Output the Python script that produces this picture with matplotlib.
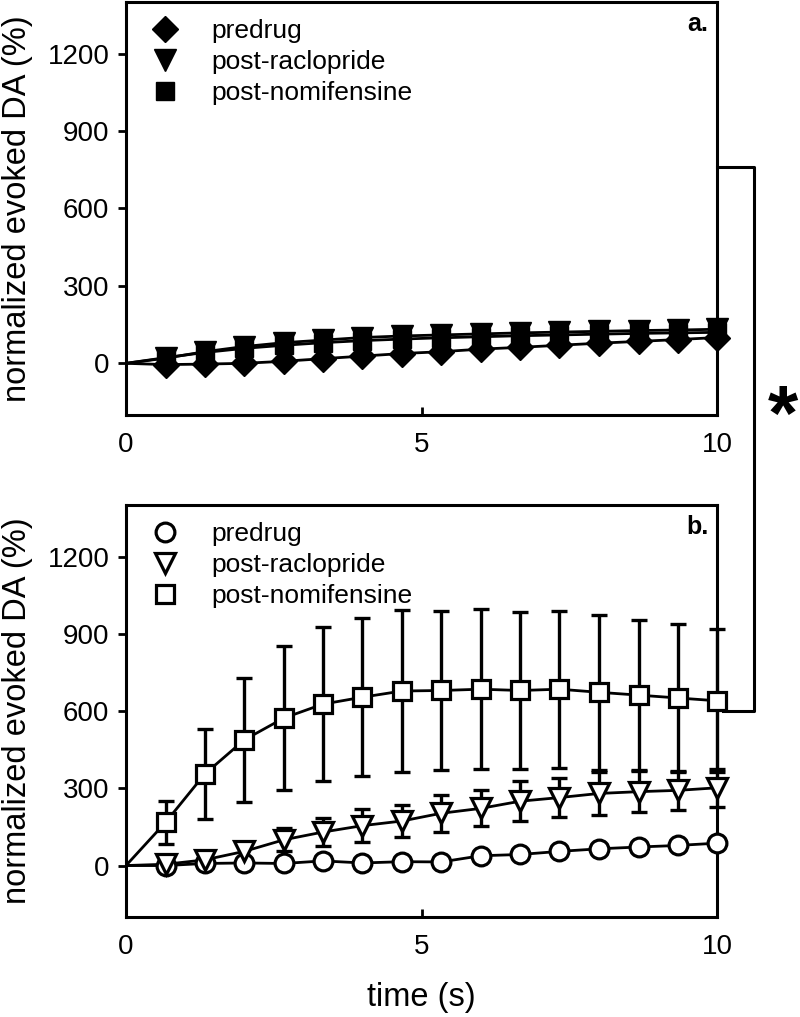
import matplotlib
matplotlib.use("Agg")
import matplotlib.pyplot as plt
from matplotlib.lines import Line2D
import numpy as np

plt.rcParams['font.family'] = ['Liberation Sans', 'DejaVu Sans']

# time points (s); first point is the origin, drawn without a marker
t = [0, 0.67, 1.33, 2.0, 2.67, 3.33, 4.0, 4.67, 5.33, 6.0, 6.67, 7.33, 8.0, 8.67, 9.33, 10.0]

# panel a (filled markers)
a_predrug = [0, -5, -3, 0, 8, 18, 28, 38, 45, 55, 62, 70, 78, 85, 92, 100]
a_raclo = [0, 20, 45, 65, 80, 90, 100, 106, 110, 114, 118, 121, 124, 127, 129, 132]
a_nomi = [0, 22, 42, 58, 70, 80, 88, 94, 99, 103, 107, 110, 113, 116, 118, 120]

# panel b (open markers) with error bars
b_predrug = [0, 0, 8, 10, 8, 18, 10, 15, 14, 38, 43, 55, 65, 72, 78, 87]
b_predrug_err = [0, 5, 8, 8, 10, 10, 10, 12, 12, 15, 15, 15, 18, 18, 18, 20]
b_raclo = [0, 5, 22, 55, 100, 130, 155, 173, 203, 222, 250, 264, 280, 287, 292, 302]
b_raclo_err = [0, 8, 15, 25, 45, 55, 63, 63, 72, 70, 78, 77, 82, 80, 75, 73]
b_nomi = [0, 168, 355, 488, 573, 627, 654, 678, 680, 685, 680, 685, 673, 662, 651, 640]
b_nomi_err = [0, 84, 176, 240, 278, 300, 307, 315, 310, 310, 305, 305, 301, 291, 287, 278]

labels = ['predrug', 'post-raclopride', 'post-nomifensine']
markers = ['o', 'v', 's']
msizes = [13.5, 15, 12.5]
fmarkers = ['D', 'v', 's']
fsizes = [13, 16, 12.5]

fig = plt.figure(figsize=(8, 10.17), dpi=100)
ax1 = fig.add_axes([0.1575, 0.592, 0.739, 0.406])
ax2 = fig.add_axes([0.1575, 0.0983, 0.739, 0.405])

lw = 2.0
mew = 2.3

# panel a
for y, m, ms in zip([a_predrug, a_raclo, a_nomi], fmarkers, fsizes):
    ax1.plot(t, y, color='black', lw=lw, zorder=2)
    ax1.plot(t[1:], y[1:], ls='none', marker=m, ms=ms, mfc='black', mec='black',
             mew=1, zorder=3, clip_on=False)

# panel b
for y, e, m, ms in zip([b_predrug, b_raclo, b_nomi], [b_predrug_err, b_raclo_err, b_nomi_err],
                       markers, msizes):
    ax2.errorbar(t[1:], y[1:], yerr=e[1:], fmt='none', ecolor='black', elinewidth=2.4,
                 capsize=6, capthick=2.4, zorder=2, clip_on=False)
    ax2.plot(t, y, color='black', lw=lw, zorder=2.5)
    ax2.plot(t[1:], y[1:], ls='none', marker=m, ms=ms, mfc='white', mec='black',
             mew=mew, zorder=3, clip_on=False)

for ax, mk, sz, fill, tag in [(ax1, fmarkers, fsizes, 'black', 'a.'),
                              (ax2, markers, msizes, 'white', 'b.')]:
    ax.set_xlim(0, 10)
    ax.set_ylim(-200, 1400)
    ax.set_xticks([0, 5, 10])
    ax.set_yticks([0, 300, 600, 900, 1200])
    ax.tick_params(axis='x', direction='in', length=6, width=2, pad=12, labelsize=20)
    ax.tick_params(axis='y', direction='out', length=6, width=2, pad=6, labelsize=20)
    for s in ax.spines.values():
        s.set_linewidth(2.2)
    ax.set_ylabel('normalized evoked DA (%)', fontsize=23.5)
    ax.yaxis.set_label_coords(-0.158, 0.5)
    handles = [Line2D([], [], ls='none', marker=m, ms=s, mfc=fill, mec='black',
                      mew=(1 if fill == 'black' else mew)) for m, s in zip(mk, sz)]
    ax.legend(handles, labels, loc='upper left', bbox_to_anchor=(0.022, 0.985),
              frameon=False, fontsize=19, handlelength=1.2, handletextpad=1.15,
              labelspacing=0.27, borderaxespad=0)
    ax.text(0.985, 0.948, tag, transform=ax.transAxes, ha='right', va='center',
            fontsize=18, fontweight='bold')

ax2.set_xlabel('time (s)', fontsize=23.5, labelpad=16)

# significance bracket between panels
fig.canvas.draw()
p_top = ax1.transData.transform((10, 760))
p_bot = ax2.transData.transform((10, 600))
bx = p_top[0] + 37
pts = np.array([[p_top[0], p_top[1]], [bx, p_top[1]], [bx, p_bot[1]], [p_bot[0] + 6, p_bot[1]]])
pts_fig = fig.transFigure.inverted().transform(pts)
fig.add_artist(Line2D(pts_fig[:, 0], pts_fig[:, 1], color='black', lw=2.2,
                      transform=fig.transFigure))
mid = fig.transFigure.inverted().transform((bx + 29, (p_top[1] + p_bot[1]) / 2 + 20))
fig.text(mid[0], mid[1], '*', fontsize=56, fontweight='bold', ha='center', va='center')

fig.savefig('out.png', dpi=100)
